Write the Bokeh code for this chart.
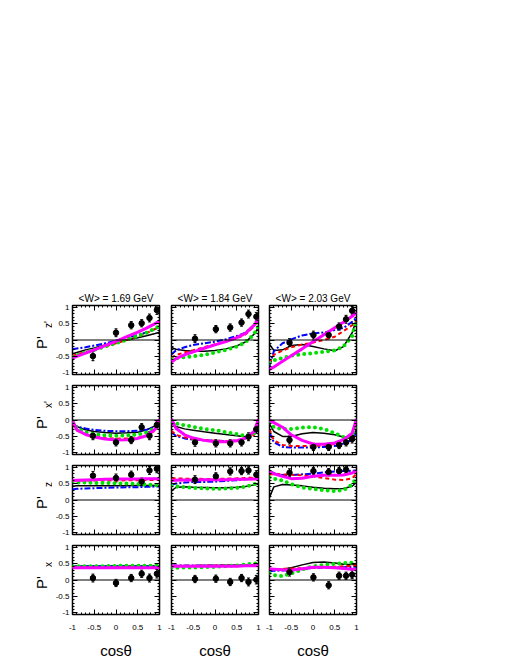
import numpy as np
from bokeh.plotting import figure
from bokeh.models import (ColumnDataSource, FixedTicker, LinearAxis, Range1d, Span,
                          Whisker, TeeHead, Label, CustomJSTickFormatter, Spacer)
from bokeh.layouts import column, row
from bokeh.embed import file_html
from bokeh.resources import INLINE

FONT = "Liberation Sans"

# ---------------- data ----------------
W_TITLES = ["<W> = 1.69 GeV", "<W> = 1.84 GeV", "<W> = 2.03 GeV"]
OBS_MAIN = "P'"
OBS_SUB = ["z'", "x'", "z", "x"]
X_TICKS = [-1, -0.5, 0, 0.5, 1]
X_TICK_LABELS = ["-1", "-0.5", "0", "0.5", "1"]
Y_TICKS = [-1, -0.5, 0, 0.5, 1]
Y_TICK_LABELS = ["-1", "-0.5", "0", "0.5", "1"]
X_LABEL = "cosθ"

# knots of model curves (cos theta)
CX = [-1, -0.9, -0.7, -0.5, -0.25, 0, 0.25, 0.5, 0.7, 0.9, 1]

# data cos theta per W bin
px_169 = [-0.53, 0.0, 0.35, 0.59, 0.77, 0.94]
px_184 = [-0.46, 0.02, 0.35, 0.61, 0.77, 0.95]
px_203 = [-0.54, 0.01, 0.36, 0.60, 0.76, 0.90]

# ---- P'z' ----
pzp_169_y = [-0.49, 0.22, 0.45, 0.51, 0.67, 0.91]
pzp_169_e = [0.14, 0.12, 0.11, 0.11, 0.12, 0.13]
pzp_169_blk = [-0.42, -0.38, -0.30, -0.24, -0.15, -0.07, 0.00, 0.07, 0.13, 0.20, 0.24]
pzp_169_blu = [-0.28, -0.26, -0.22, -0.17, -0.10, -0.02, 0.06, 0.15, 0.23, 0.33, 0.40]
pzp_169_red = [-0.48, -0.44, -0.37, -0.30, -0.20, -0.10, 0.00, 0.11, 0.21, 0.34, 0.42]
pzp_169_grn = [-0.52, -0.47, -0.38, -0.30, -0.20, -0.10, 0.01, 0.12, 0.22, 0.35, 0.44]
pzp_169_mag = [-0.55, -0.50, -0.40, -0.30, -0.17, -0.04, 0.10, 0.24, 0.36, 0.50, 0.58]

pzp_184_y = [0.04, 0.33, 0.38, 0.53, 0.79, 0.71]
pzp_184_e = [0.12, 0.11, 0.11, 0.11, 0.12, 0.13]
pzp_184_blk = [-0.23, -0.28, -0.32, -0.34, -0.34, -0.32, -0.27, -0.18, -0.06, 0.18, 0.38]
pzp_184_blu = [-0.44, -0.32, -0.22, -0.15, -0.10, -0.05, 0.02, 0.12, 0.22, 0.45, 0.63]
pzp_184_red = [-0.54, -0.46, -0.38, -0.31, -0.22, -0.13, -0.05, 0.05, 0.17, 0.42, 0.63]
pzp_184_grn = [-0.57, -0.55, -0.52, -0.50, -0.45, -0.38, -0.30, -0.20, -0.07, 0.18, 0.43]
pzp_184_mag = [-0.67, -0.57, -0.45, -0.36, -0.25, -0.15, -0.05, 0.07, 0.20, 0.45, 0.65]

pzp_203_y = [-0.08, 0.15, 0.15, 0.41, 0.63, 0.89]
pzp_203_e = [0.12, 0.12, 0.11, 0.11, 0.12, 0.13]
pzp_203_blk = [-0.13, -0.32, -0.30, -0.17, -0.14, -0.20, -0.27, -0.33, -0.20, 0.22, 0.63]
pzp_203_blu = [-0.80, -0.34, -0.10, 0.02, 0.14, 0.20, 0.23, 0.30, 0.37, 0.55, 0.68]
pzp_203_red = [-0.69, -0.45, -0.32, -0.22, -0.14, -0.08, 0.00, 0.10, 0.27, 0.45, 0.58]
pzp_203_grn = [-0.69, -0.62, -0.55, -0.48, -0.43, -0.40, -0.36, -0.32, -0.20, 0.12, 0.63]
pzp_203_mag = [-0.90, -0.82, -0.65, -0.48, -0.27, -0.05, 0.16, 0.37, 0.54, 0.72, 0.84]

# ---- P'x' ----
pxp_169_y = [-0.48, -0.68, -0.61, -0.22, -0.48, -0.15]
pxp_169_e = [0.12, 0.11, 0.11, 0.11, 0.12, 0.12]
pxp_169_blk = [-0.07, -0.20, -0.30, -0.35, -0.38, -0.40, -0.39, -0.37, -0.30, -0.18, -0.02]
pxp_169_blu = [-0.12, -0.20, -0.26, -0.30, -0.33, -0.34, -0.34, -0.33, -0.30, -0.20, -0.07]
pxp_169_red = [-0.12, -0.32, -0.44, -0.50, -0.55, -0.57, -0.56, -0.54, -0.48, -0.32, -0.07]
pxp_169_grn = [-0.07, -0.25, -0.37, -0.43, -0.47, -0.48, -0.47, -0.44, -0.38, -0.25, -0.07]
pxp_169_mag = [-0.02, -0.30, -0.44, -0.52, -0.58, -0.61, -0.60, -0.56, -0.48, -0.28, 0.03]

pxp_184_y = [-0.68, -0.71, -0.71, -0.68, -0.51, -0.28]
pxp_184_e = [0.12, 0.11, 0.11, 0.11, 0.12, 0.12]
pxp_184_blk = [-0.12, -0.20, -0.27, -0.31, -0.36, -0.40, -0.44, -0.48, -0.51, -0.38, -0.17]
pxp_184_blu = [-0.38, -0.48, -0.56, -0.60, -0.62, -0.63, -0.64, -0.63, -0.56, -0.42, -0.17]
pxp_184_red = [-0.33, -0.45, -0.53, -0.58, -0.61, -0.63, -0.64, -0.63, -0.58, -0.45, -0.17]
pxp_184_grn = [-0.07, -0.10, -0.16, -0.21, -0.27, -0.31, -0.37, -0.43, -0.48, -0.40, -0.17]
pxp_184_mag = [0.03, -0.25, -0.45, -0.55, -0.62, -0.66, -0.66, -0.63, -0.55, -0.35, 0.03]

pxp_203_y = [-0.61, -0.82, -0.82, -0.76, -0.68, -0.58]
pxp_203_e = [0.12, 0.11, 0.11, 0.11, 0.11, 0.12]
pxp_203_blk = [-0.12, -0.35, -0.50, -0.50, -0.42, -0.38, -0.40, -0.45, -0.52, -0.57, -0.28]
pxp_203_blu = [-0.38, -0.68, -0.82, -0.84, -0.84, -0.84, -0.82, -0.79, -0.72, -0.60, -0.38]
pxp_203_red = [-0.28, -0.62, -0.76, -0.79, -0.79, -0.79, -0.77, -0.73, -0.69, -0.62, -0.48]
pxp_203_grn = [-0.07, -0.22, -0.28, -0.27, -0.23, -0.22, -0.27, -0.40, -0.52, -0.48, -0.17]
pxp_203_mag = [0.00, -0.08, -0.22, -0.45, -0.62, -0.73, -0.74, -0.70, -0.60, -0.40, 0.03]

# ---- P'z ----
pz_169_y = [0.74, 0.67, 0.77, 0.56, 0.90, 0.95]
pz_169_e = [0.13, 0.12, 0.11, 0.11, 0.12, 0.12]
pz_169_blk = [0.42, 0.43, 0.43, 0.43, 0.43, 0.43, 0.43, 0.44, 0.44, 0.44, 0.44]
pz_169_blu = [0.32, 0.34, 0.35, 0.36, 0.37, 0.38, 0.39, 0.39, 0.40, 0.41, 0.41]
pz_169_red = [0.59, 0.59, 0.59, 0.59, 0.59, 0.59, 0.60, 0.60, 0.61, 0.61, 0.62]
pz_169_grn = [0.54, 0.53, 0.53, 0.52, 0.52, 0.51, 0.50, 0.49, 0.47, 0.45, 0.44]
pz_169_mag = [0.59, 0.60, 0.61, 0.62, 0.63, 0.64, 0.64, 0.64, 0.65, 0.65, 0.65]

pz_184_y = [0.62, 0.72, 0.87, 0.88, 0.90, 0.77]
pz_184_e = [0.12, 0.11, 0.11, 0.11, 0.11, 0.12]
pz_184_blk = [0.28, 0.38, 0.40, 0.39, 0.38, 0.37, 0.37, 0.39, 0.41, 0.46, 0.49]
pz_184_blu = [0.46, 0.50, 0.53, 0.55, 0.55, 0.56, 0.58, 0.60, 0.63, 0.65, 0.66]
pz_184_red = [0.66, 0.66, 0.65, 0.65, 0.64, 0.64, 0.65, 0.66, 0.67, 0.68, 0.69]
pz_184_grn = [0.44, 0.42, 0.39, 0.37, 0.35, 0.34, 0.35, 0.37, 0.40, 0.48, 0.54]
pz_184_mag = [0.59, 0.60, 0.61, 0.61, 0.62, 0.62, 0.62, 0.63, 0.63, 0.64, 0.64]

pz_203_x = [-0.54, 0.01, 0.36, 0.60, 0.76]
pz_203_y = [0.83, 0.88, 0.85, 0.88, 0.92]
pz_203_e = [0.12, 0.11, 0.11, 0.11, 0.11]
pz_203_blk = [0.08, 0.40, 0.47, 0.46, 0.43, 0.39, 0.36, 0.34, 0.35, 0.42, 0.54]
pz_203_blu = [0.87, 0.82, 0.76, 0.76, 0.78, 0.80, 0.84, 0.87, 0.88, 0.89, 0.90]
pz_203_red = [0.78, 0.78, 0.78, 0.77, 0.75, 0.72, 0.67, 0.62, 0.61, 0.66, 0.80]
pz_203_grn = [0.69, 0.65, 0.59, 0.48, 0.38, 0.34, 0.30, 0.27, 0.30, 0.47, 0.69]
pz_203_mag = [0.87, 0.80, 0.72, 0.65, 0.66, 0.72, 0.75, 0.75, 0.76, 0.82, 0.90]

# ---- P'x ----
pxx_169_y = [0.06, -0.09, 0.06, 0.19, 0.06, 0.19]
pxx_169_e = [0.12, 0.11, 0.11, 0.11, 0.12, 0.13]
pxx_169_blk = [0.42, 0.42, 0.42, 0.42, 0.42, 0.42, 0.42, 0.42, 0.42, 0.42, 0.42]
pxx_169_blu = [0.41, 0.41, 0.42, 0.42, 0.42, 0.42, 0.42, 0.42, 0.42, 0.42, 0.42]
pxx_169_red = [0.39, 0.39, 0.39, 0.39, 0.39, 0.39, 0.40, 0.40, 0.40, 0.40, 0.40]
pxx_169_grn = [0.42, 0.42, 0.42, 0.42, 0.42, 0.43, 0.43, 0.43, 0.43, 0.44, 0.44]
pxx_169_mag = [0.37, 0.37, 0.37, 0.37, 0.37, 0.37, 0.37, 0.37, 0.37, 0.37, 0.37]

pxx_184_y = [0.03, 0.04, -0.06, 0.06, -0.06, 0.01]
pxx_184_e = [0.11, 0.11, 0.11, 0.11, 0.12, 0.13]
pxx_184_blk = [0.42, 0.42, 0.43, 0.43, 0.44, 0.44, 0.45, 0.45, 0.45, 0.46, 0.46]
pxx_184_blu = [0.44, 0.44, 0.44, 0.44, 0.44, 0.44, 0.44, 0.44, 0.44, 0.44, 0.44]
pxx_184_red = [0.43, 0.43, 0.43, 0.43, 0.44, 0.44, 0.44, 0.44, 0.45, 0.45, 0.45]
pxx_184_grn = [0.37, 0.37, 0.38, 0.38, 0.39, 0.40, 0.42, 0.44, 0.47, 0.50, 0.52]
pxx_184_mag = [0.42, 0.42, 0.42, 0.42, 0.42, 0.42, 0.42, 0.42, 0.43, 0.43, 0.43]

pxx_203_y = [0.24, 0.08, -0.16, 0.13, 0.13, 0.16]
pxx_203_e = [0.12, 0.11, 0.11, 0.11, 0.11, 0.12]
pxx_203_blk = [0.32, 0.32, 0.33, 0.37, 0.46, 0.53, 0.55, 0.52, 0.48, 0.47, 0.47]
pxx_203_blu = [0.27, 0.28, 0.29, 0.30, 0.33, 0.37, 0.38, 0.39, 0.39, 0.40, 0.40]
pxx_203_red = [0.32, 0.33, 0.34, 0.35, 0.36, 0.37, 0.39, 0.40, 0.42, 0.43, 0.44]
pxx_203_grn = [0.21, 0.15, 0.12, 0.20, 0.32, 0.42, 0.46, 0.49, 0.51, 0.53, 0.54]
pxx_203_mag = [0.34, 0.33, 0.31, 0.30, 0.34, 0.39, 0.39, 0.37, 0.35, 0.33, 0.32]

# table: rows = observables, cols = W bins
PANELS = [
    [(px_169, pzp_169_y, pzp_169_e, pzp_169_blk, pzp_169_blu, pzp_169_red, pzp_169_grn, pzp_169_mag),
     (px_184, pzp_184_y, pzp_184_e, pzp_184_blk, pzp_184_blu, pzp_184_red, pzp_184_grn, pzp_184_mag),
     (px_203, pzp_203_y, pzp_203_e, pzp_203_blk, pzp_203_blu, pzp_203_red, pzp_203_grn, pzp_203_mag)],
    [(px_169, pxp_169_y, pxp_169_e, pxp_169_blk, pxp_169_blu, pxp_169_red, pxp_169_grn, pxp_169_mag),
     (px_184, pxp_184_y, pxp_184_e, pxp_184_blk, pxp_184_blu, pxp_184_red, pxp_184_grn, pxp_184_mag),
     (px_203, pxp_203_y, pxp_203_e, pxp_203_blk, pxp_203_blu, pxp_203_red, pxp_203_grn, pxp_203_mag)],
    [(px_169, pz_169_y, pz_169_e, pz_169_blk, pz_169_blu, pz_169_red, pz_169_grn, pz_169_mag),
     (px_184, pz_184_y, pz_184_e, pz_184_blk, pz_184_blu, pz_184_red, pz_184_grn, pz_184_mag),
     (pz_203_x, pz_203_y, pz_203_e, pz_203_blk, pz_203_blu, pz_203_red, pz_203_grn, pz_203_mag)],
    [(px_169, pxx_169_y, pxx_169_e, pxx_169_blk, pxx_169_blu, pxx_169_red, pxx_169_grn, pxx_169_mag),
     (px_184, pxx_184_y, pxx_184_e, pxx_184_blk, pxx_184_blu, pxx_184_red, pxx_184_grn, pxx_184_mag),
     (px_203, pxx_203_y, pxx_203_e, pxx_203_blk, pxx_203_blu, pxx_203_red, pxx_203_grn, pxx_203_mag)],
]

# ---------------- styles / layout ----------------
FW, FH = 87, 69
LABEL_W = 52
COL_BORDERS = [(18, 6), (6, 5), (6, 14)]
ROW_BORDERS = [(16, 5), (6, 5), (6, 5), (6, 44)]
TOP_SPACE = 305 - 16

CURVE_STYLES = [
    dict(line_color="black", line_width=1.5),
    dict(line_color="#0000ff", line_width=2, line_dash="6 2 2 2"),
    dict(line_color="#ff0000", line_width=2, line_dash="4 3"),
    dict(line_color="#00e000", line_width=4, line_dash="0 6", line_cap="round"),
    dict(line_color="#ff00ff", line_width=3),
]

minor = [round(-1 + 0.1 * i, 2) for i in range(21)]
empty_fmt = CustomJSTickFormatter(code="return ''")


def style_axis(ax, show_labels, ticks, labels):
    ax.ticker = FixedTicker(ticks=ticks, minor_ticks=minor)
    ax.axis_line_color = None
    ax.major_tick_in = 5
    ax.major_tick_out = 0
    ax.minor_tick_in = 2
    ax.minor_tick_out = 0
    ax.major_tick_line_color = "black"
    ax.minor_tick_line_color = "black"
    if show_labels:
        ax.major_label_overrides = {t: l for t, l in zip(ticks, labels)}
        ax.major_label_text_font = FONT
        ax.major_label_text_font_size = "8px"
        ax.major_label_text_color = "black"
    else:
        ax.formatter = empty_fmt
        ax.major_label_text_font_size = "0px"
        ax.major_label_standoff = 0


def make_label_fig(r):
    tb, bb = ROW_BORDERS[r]
    p = figure(frame_width=LABEL_W, frame_height=FH,
               x_range=Range1d(0, LABEL_W), y_range=Range1d(-1.05, 1.05),
               output_backend="svg", toolbar_location=None,
               x_axis_location=None, y_axis_location=None,
               min_border_left=0, min_border_right=0,
               min_border_top=tb, min_border_bottom=bb,
               background_fill_color="white", border_fill_color="white")
    p.grid.visible = False
    p.outline_line_color = None
    p.add_layout(Label(x=41, y=-0.08, text=OBS_MAIN, angle=np.pi / 2,
                       text_align="center", text_baseline="middle", text_font=FONT,
                       text_font_size="15px", text_color="black"))
    p.add_layout(Label(x=47.5, y=0.47, text=OBS_SUB[r], angle=np.pi / 2,
                       text_align="center", text_baseline="middle", text_font=FONT,
                       text_font_size="10px", text_color="black"))
    return p


def make_panel(r, c):
    xs, ys, es, blk, blu, red, grn, mag = PANELS[r][c]
    lb, rb = COL_BORDERS[c]
    tb, bb = ROW_BORDERS[r]
    p = figure(frame_width=FW, frame_height=FH,
               x_range=Range1d(-1, 1), y_range=Range1d(-1.05, 1.05),
               output_backend="svg", toolbar_location=None,
               x_axis_location=None, y_axis_location=None,
               min_border_left=lb, min_border_right=rb,
               min_border_top=tb, min_border_bottom=bb,
               background_fill_color="white", border_fill_color="white")
    p.grid.visible = False
    p.outline_line_color = "black"
    p.outline_line_width = 1.5

    bottom = LinearAxis()
    style_axis(bottom, r == 3, X_TICKS, X_TICK_LABELS)
    if r == 3:
        bottom.major_label_standoff = 10
        bottom.axis_label = X_LABEL
        bottom.axis_label_text_font = FONT
        bottom.axis_label_text_font_size = "15px"
        bottom.axis_label_text_font_style = "normal"
        bottom.axis_label_text_color = "black"
        bottom.axis_label_standoff = 9
    p.add_layout(bottom, "below")

    left = LinearAxis()
    style_axis(left, c == 0, Y_TICKS, Y_TICK_LABELS)
    if c == 0:
        left.major_label_standoff = 3
    p.add_layout(left, "left")

    top = LinearAxis()
    style_axis(top, False, X_TICKS, None)
    p.add_layout(top, "above")
    right = LinearAxis()
    style_axis(right, False, Y_TICKS, None)
    p.add_layout(right, "right")

    p.add_layout(Span(location=0, dimension="width", line_color="black", line_width=1))

    for vals, st in zip([blk, blu, red, grn, mag], CURVE_STYLES):
        p.line(CX, vals, **st)

    src = ColumnDataSource(dict(x=xs, y=ys,
                                lo=[y - e for y, e in zip(ys, es)],
                                hi=[y + e for y, e in zip(ys, es)]))
    p.add_layout(Whisker(source=src, base="x", lower="lo", upper="hi",
                         line_color="black", line_width=1.2,
                         lower_head=TeeHead(size=3, line_color="black", line_width=1),
                         upper_head=TeeHead(size=3, line_color="black", line_width=1)))
    p.scatter("x", "y", source=src, size=5.5, color="black")

    if r == 0:
        p.title.text = W_TITLES[c]
        p.title.align = "center"
        p.title.text_font = FONT
        p.title.text_font_size = "10px"
        p.title.text_font_style = "normal"
        p.title.text_color = "black"
        p.title.standoff = 3
    return p


rows = []
for r in range(4):
    rows.append(row(make_label_fig(r), *[make_panel(r, c) for c in range(3)], spacing=0))

layout = column(Spacer(height=TOP_SPACE, width=10), *rows, spacing=0)

open("out.html", "w").write(file_html(layout, INLINE))
